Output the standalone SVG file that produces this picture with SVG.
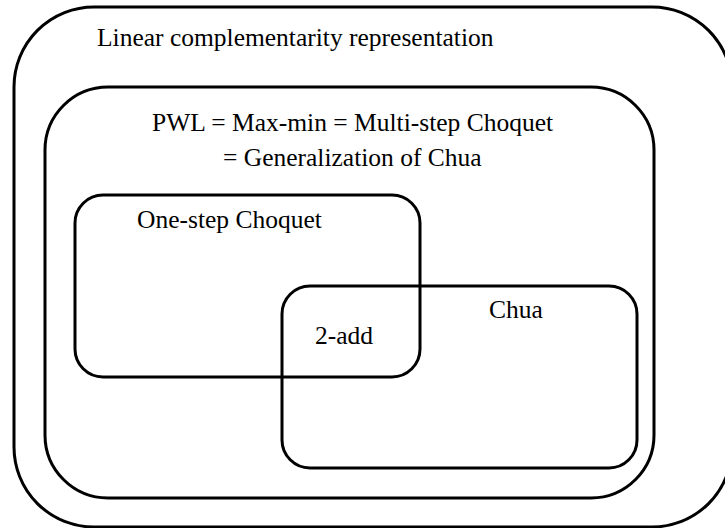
<svg xmlns="http://www.w3.org/2000/svg" width="725" height="528" viewBox="0 0 725 528">
<style>
.box{fill:none;stroke:#000;stroke-width:3}
.t{font-family:"Liberation Serif","Times New Roman",Times,"DejaVu Serif",serif;font-size:25.5px;fill:#000}
</style>
<rect width="725" height="528" fill="#fff"/>
<g id="linear-complementarity">
<rect class="box" x="14" y="7" width="718" height="520" rx="80" ry="80"/>
<text class="t" x="97" y="46">Linear complementarity representation</text>
</g>
<g id="pwl">
<rect class="box" x="45" y="87" width="609" height="411" rx="63" ry="63"/>
<text class="t" x="152" y="131">PWL = Max-min = Multi-step Choquet</text>
<text class="t" x="223" y="166">= Generalization of Chua</text>
</g>
<g id="one-step-choquet">
<rect class="box" x="75" y="195" width="345" height="182" rx="28" ry="28"/>
<text class="t" x="137" y="228">One-step Choquet</text>
</g>
<g id="chua">
<rect class="box" x="282" y="286" width="355" height="182" rx="28" ry="28"/>
<text class="t" x="489" y="318">Chua</text>
</g>
<g id="two-add">
<text class="t" x="315" y="344">2-add</text>
</g>
<g id="connectors"/>
</svg>
